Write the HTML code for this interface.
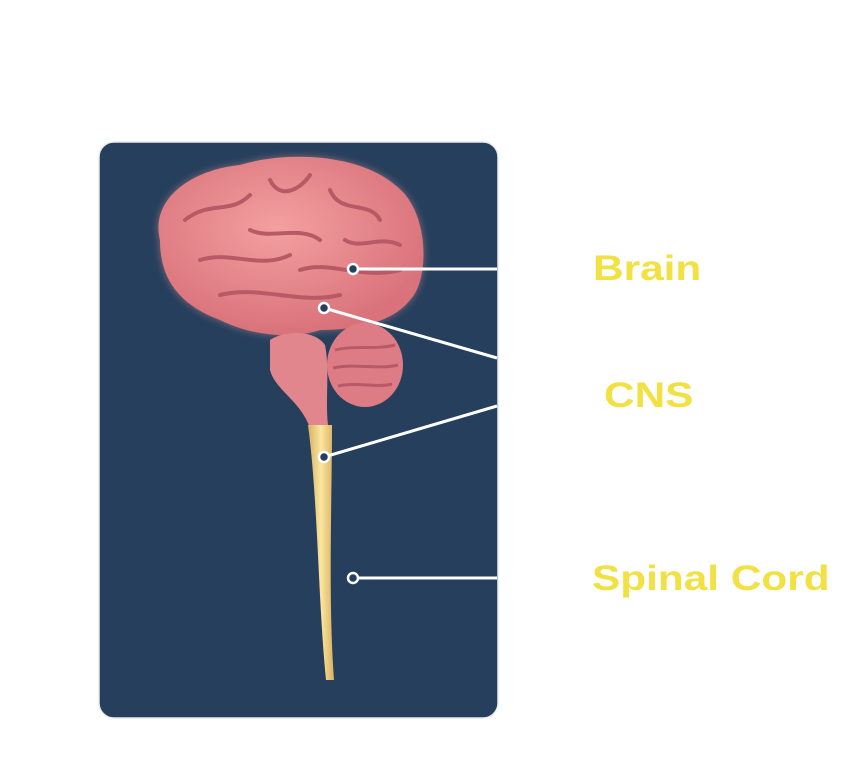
<!DOCTYPE html>
<html><head><meta charset="utf-8"><style>
body{margin:0;background:#fff;width:844px;height:761px;overflow:hidden;font-family:"Liberation Sans",sans-serif}
.lbl{position:absolute;color:#f1e143;font-weight:bold;font-size:35px;line-height:1;transform:scaleX(1.21);transform-origin:0 50%}
</style></head><body>
<svg width="844" height="761" style="position:absolute;left:0;top:0">
<defs>
<radialGradient id="br" cx="0.45" cy="0.4" r="0.6"><stop offset="0" stop-color="#f3a0a0"/><stop offset="1" stop-color="#d9727a"/></radialGradient>
<linearGradient id="sc" x1="0" x2="1"><stop offset="0" stop-color="#d9b060"/><stop offset="0.5" stop-color="#fbe6a0"/><stop offset="1" stop-color="#d9b060"/></linearGradient>
<filter id="glow"><feGaussianBlur stdDeviation="4"/></filter>
</defs>
<rect x="99" y="142" width="399" height="576" rx="15" fill="#263f5c" stroke="#e8eaee" stroke-width="1.5"/>
<g>
<path d="M160 240 C150 200 190 170 240 165 C290 150 360 155 395 185 C430 210 430 280 410 300 C390 325 350 330 320 330 C290 340 250 335 220 320 C180 305 160 280 160 240Z" fill="#e99a9e" filter="url(#glow)" opacity="0.5"/>
<path d="M160 240 C150 200 190 170 240 165 C290 150 360 155 395 185 C430 210 430 280 410 300 C390 325 350 330 320 330 C290 340 250 335 220 320 C180 305 160 280 160 240Z" fill="url(#br)"/>
<path d="M185 220 C210 200 230 215 250 195 M270 180 C280 200 300 190 310 175 M330 190 C340 215 370 200 380 220 M200 260 C230 250 260 270 290 255 M300 270 C330 260 360 280 400 270 M220 295 C260 285 300 305 340 295 M250 230 C270 240 300 225 320 240 M345 240 C360 250 380 235 400 245" stroke="#b85a66" stroke-width="4" fill="none" stroke-linecap="round"/>
<ellipse cx="365" cy="365" rx="38" ry="42" fill="#dd7c84"/>
<path d="M335 350 C355 345 375 350 395 345 M333 368 C355 363 378 370 398 365 M338 386 C358 382 378 388 392 384" stroke="#b85a66" stroke-width="3" fill="none"/>
<path d="M270 340 C285 330 315 330 325 345 C330 370 325 400 328 425 L310 428 C300 400 275 390 270 370Z" fill="#e0868c"/>
<path d="M308 425 L332 425 C332 500 328 600 334 680 L326 680 C318 600 318 500 308 425Z" fill="url(#sc)"/>
</g>
<g stroke="#fff" stroke-width="3" fill="none">
<line x1="353" y1="269" x2="497" y2="269"/>
<line x1="324" y1="308" x2="497" y2="358"/>
<line x1="324" y1="457" x2="497" y2="406"/>
<line x1="353" y1="578" x2="497" y2="578"/>
</g>
<g fill="#263f5c" stroke="#fff" stroke-width="2.5">
<circle cx="353" cy="269" r="5"/>
<circle cx="324" cy="308" r="5"/>
<circle cx="324" cy="457" r="5"/>
<circle cx="353" cy="578" r="5"/>
</g>
</svg>
<div class="lbl" style="left:593px;top:251px">Brain</div>
<div class="lbl" style="left:604px;top:378px">CNS</div>
<div class="lbl" style="left:592px;top:561px">Spinal Cord</div>
</body></html>
